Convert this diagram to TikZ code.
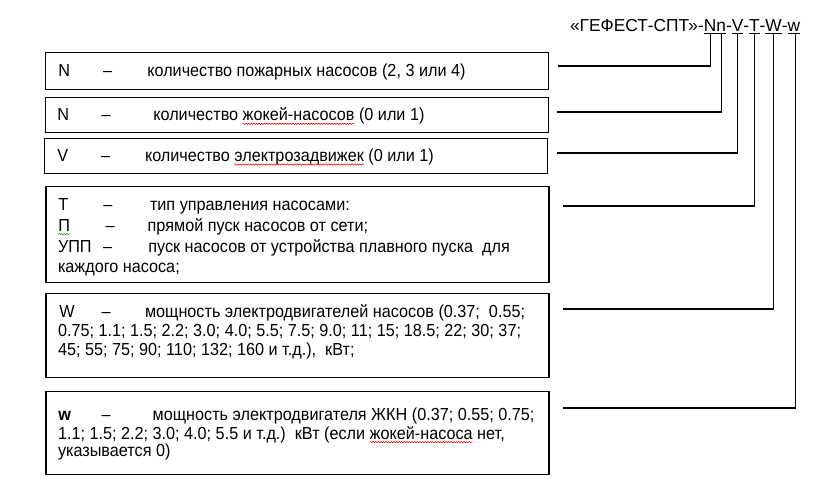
\documentclass[tikz,border=0pt]{standalone}
\usepackage{fontspec}
\setmainfont[FakeStretch=0.93]{Liberation Sans}
\newfontfamily\titlefam{Liberation Sans}
\usetikzlibrary{decorations.pathmorphing}
\newcommand\bodyfont{\fontsize{17.5}{19}\selectfont}
\newcommand\headfont{\titlefam\fontsize{17.4}{19}\selectfont}
\begin{document}
\begin{tikzpicture}[x=1bp,y=-1bp,
  box/.style={draw, line width=1.1bp, inner sep=0pt, outer sep=0pt, anchor=north west},
  txt/.style={anchor=base west, inner sep=0pt, outer sep=0pt, font=\bodyfont},
  head/.style={txt, font=\headfont},
  link/.style={line width=1.1bp},
  uline/.style={line width=1.1bp},
  squig/.style={red, line width=0.5bp, decorate, decoration={snake, amplitude=0.7bp, segment length=2.6bp}},
  squigg/.style={squig, draw=green!60!black}]
\useasboundingbox (0,0) rectangle (826,492);
% boxes
\node[box, minimum width=502.8bp, minimum height=36.6bp] (b1) at (45.5,52.7) {};
\node[box, minimum width=502.8bp, minimum height=35bp] (b2) at (45.5,97.3) {};
\node[box, minimum width=503bp, minimum height=35bp] (b3) at (44.3,138.3) {};
\node[box, minimum width=503bp, minimum height=96bp] (b4) at (46,186.3) {};
\node[box, minimum width=503bp, minimum height=84bp] (b5) at (46,293.3) {};
\node[box, minimum width=503bp, minimum height=82.5bp] (b6) at (46,391.7) {};
% box 1
\node[txt] (t1a) at (58.3,76.7) {N};
\node[txt] (t1b) at (103,76.7) {–};
\node[txt] (t1c) at (147.3,76.7) {количество пожарных насосов (2, 3 или 4)};
% box 2
\node[txt] (t2a) at (57.3,121) {N};
\node[txt] (t2b) at (101.7,121) {–};
\node[txt] (t2c) at (153.3,121) {количество\ \null};
\node[txt] (t2d) at (t2c.base east) {жокей-насосов};
\node[txt] (t2e) at (t2d.base east) {\null\ (0 или 1)};
\draw[squig] ([yshift=-2.8bp]t2d.base west) -- ([yshift=-2.8bp]t2d.base east);
% box 3
\node[txt] (t3a) at (57.3,161.7) {V};
\node[txt] (t3b) at (101,161.7) {–};
\node[txt] (t3c) at (145,161.7) {количество\ \null};
\node[txt] (t3d) at (t3c.base east) {электрозадвижек};
\node[txt] (t3e) at (t3d.base east) {\null\ (0 или 1)};
\draw[squig] ([yshift=-2.8bp]t3d.base west) -- ([yshift=-2.8bp]t3d.base east);
% box 4
\node[txt] (t4a) at (58.3,210.3) {Т};
\node[txt] (t4b) at (103.3,210.3) {–};
\node[txt] (t4c) at (150,210.3) {тип управления насосами:};
\node[txt] (t4d) at (58.3,231.3) {П};
\draw[squigg] ([yshift=-2.8bp]t4d.base west) -- ([yshift=-2.8bp]t4d.base east);
\node[txt] (t4e) at (105.7,231.3) {–};
\node[txt] (t4f) at (147.7,231.3) {прямой пуск насосов от сети;};
\node[txt] (t4g) at (58,253) {УПП};
\node[txt] (t4h) at (103,253) {–};
\node[txt] (t4i) at (148.3,253) {пуск насосов от устройства плавного пуска\ \ для};
\node[txt] (t4j) at (58,273) {каждого насоса;};
% box 5
\node[txt] (t5a) at (59.3,317.3) {W};
\node[txt] (t5b) at (101.7,317.3) {–};
\node[txt] (t5c) at (145,317.3) {мощность электродвигателей насосов (0.37;\ \ 0.55;};
\node[txt] (t5d) at (58,336.7) {0.75; 1.1; 1.5; 2.2; 3.0; 4.0; 5.5; 7.5; 9.0; 11; 15; 18.5; 22; 30; 37;};
\node[txt] (t5e) at (58,355.3) {45; 55; 75; 90; 110; 132; 160 и т.д.),\ \ кВт;};
% box 6
\node[txt] (t6a) at (58.3,420) {\textbf{w}};
\node[txt] (t6b) at (101.7,420) {–};
\node[txt] (t6c) at (152.7,420) {мощность электродвигателя ЖКН (0.37; 0.55; 0.75;};
\node[txt] (t6d) at (58,439.3) {1.1; 1.5; 2.2; 3.0; 4.0; 5.5 и т.д.)\ \ кВт (если\ \null};
\node[txt] (t6e) at (t6d.base east) {жокей-насоса};
\node[txt] (t6f) at (t6e.base east) {\null\ нет,};
\draw[squig] ([yshift=-2.8bp]t6e.base west) -- ([yshift=-2.8bp]t6e.base east);
\node[txt] (t6g) at (58,456.7) {указывается 0)};
% title
\node[head] (h0) at (570,32) {«ГЕФЕСТ-СПТ»-};
\node[head] (hN) at (h0.base east) {N};
\node[head] (hn) at (hN.base east) {n};
\node[head] (h1) at (hn.base east) {-};
\node[head] (hV) at (h1.base east) {V};
\node[head] (h2) at (hV.base east) {-};
\node[head] (hT) at (h2.base east) {T};
\node[head] (h3) at (hT.base east) {-};
\node[head] (hW) at (h3.base east) {W};
\node[head] (h4) at (hW.base east) {-};
\node[head] (hw) at (h4.base east) {w};
\draw[uline] ([yshift=-1.8bp]hN.base west) -- ([yshift=-1.8bp]hn.base east);
\foreach \n in {hV,hT,hW,hw}
  \draw[uline] ([yshift=-1.8bp]\n.base west) -- ([yshift=-1.8bp]\n.base east);
% connector endpoints
\coordinate (vN) at ([yshift=-2.3bp]hN.base);
\coordinate (vn) at ([yshift=-2.3bp]hn.base);
\coordinate (vV) at ([yshift=-2.3bp]hV.base);
\coordinate (vT) at ([yshift=-2.3bp]hT.base);
\coordinate (vW) at ([yshift=-2.3bp]hW.base);
\coordinate (vw) at ([yshift=-2.3bp, xshift=2bp]hw.base);
\coordinate (c1) at ([xshift=10bp]b1.east |- 0,66);
\coordinate (c2) at ([xshift=9bp]b2.east |- 0,112);
\coordinate (c3) at ([xshift=10bp]b3.east |- 0,153);
\coordinate (c4) at ([xshift=14bp]b4.east |- 0,206);
\coordinate (c5) at ([xshift=14bp]b5.east |- 0,309);
\coordinate (c6) at ([xshift=14bp]b6.east |- 0,408);
\draw[link] (c1) -| (vN);
\draw[link] (c2) -| (vn);
\draw[link] (c3) -| (vV);
\draw[link] (c4) -| (vT);
\draw[link] (c5) -| (vW);
\draw[link] (c6) -| (vw);
\end{tikzpicture}
\end{document}
